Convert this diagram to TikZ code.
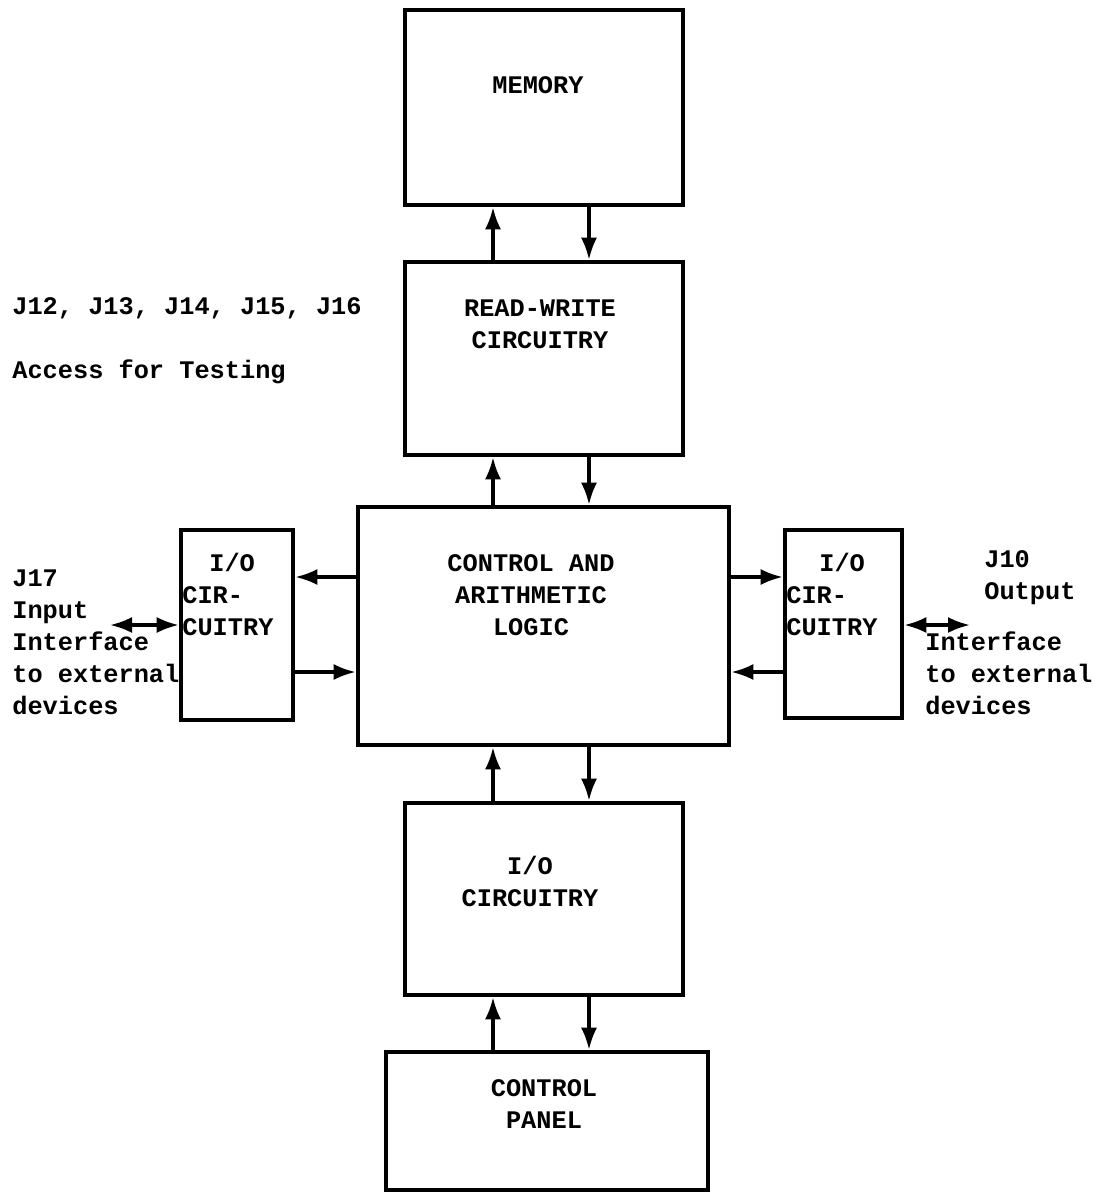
\documentclass[tikz,border=0pt]{standalone}
\usepackage{fontspec}
\newfontfamily\typer{Liberation Mono}
\newcommand{\tw}[1]{{\typer\bfseries #1}}
\usepackage{tikz}
\usetikzlibrary{arrows.meta}
\usetikzlibrary{positioning}

\begin{document}
\begin{tikzpicture}[
    box/.style={draw,line width=2.6pt,inner sep=0pt},
    txt/.style={font=\typer\bfseries\fontsize{14.4}{18.2}\selectfont,align=center,inner sep=0pt},
    lbl/.style={txt,align=left,anchor=west},
    arr/.style={line width=1.8pt,-{Latex[length=4.4mm,width=3.2mm]}},
    darr/.style={line width=1.8pt,{Latex[length=4.4mm,width=3.2mm]}-{Latex[length=4.4mm,width=3.2mm]}}]
  \useasboundingbox (0,0) rectangle (21.96,-23.86);

  % boxes
  \node[box,minimum width=5.56cm,minimum height=3.9cm](mem) at (10.88,-2.15) {};
  \node[box,minimum width=5.56cm,minimum height=3.86cm](rw) at (10.88,-7.17) {};
  \node[box,minimum width=7.42cm,minimum height=4.76cm](ctl) at (10.87,-12.52) {};
  \node[box,minimum width=2.24cm,minimum height=3.8cm](lio) at (4.74,-12.5) {};
  \node[box,minimum width=2.34cm,minimum height=3.76cm](rio) at (16.87,-12.48) {};
  \node[box,minimum width=5.56cm,minimum height=3.84cm](bio) at (10.88,-17.98) {};
  \node[box,minimum width=6.44cm,minimum height=2.76cm](pan) at (10.94,-22.42) {};

  % box texts
  \node[txt](memt) at (10.76,-1.70) {MEMORY};
  \node[txt](rwt) at (10.8,-6.48) {READ-WRITE\\CIRCUITRY};
  \node[txt](ctlt) at (10.62,-11.9) {CONTROL AND\\ARITHMETIC\\LOGIC};
  \node[lbl](liot) at (3.64,-11.88) {\hspace*{0.54cm}I/O\\CIR-\\CUITRY};
  \node[lbl](riot) at (15.72,-11.88) {\hspace*{0.66cm}I/O\\CIR-\\CUITRY};
  \node[txt](biot) at (10.6,-17.62) {I/O\\CIRCUITRY};
  \node[txt](pant) at (10.88,-22.08) {CONTROL\\PANEL};

  % side labels
  \node[lbl](jtest) at (0.24,-6.16) {J12, J13, J14, J15, J16};
  \node[lbl](acc) at (0.24,-7.44) {Access for Testing};
  \node[lbl](jin) at (0.24,-12.84) {J17\\Input\\Interface\\to external\\devices};
  \node[lbl](jout) at (19.68,-11.56) {J10\\Output};
  \node[lbl](jdev) at (18.5,-13.46) {Interface\\to external\\devices};

  % connector lanes
  \coordinate (upx) at (9.86,0);
  \coordinate (dnx) at (11.78,0);
  \coordinate (hiy) at (0,-11.54);
  \coordinate (loy) at (0,-13.44);
  \coordinate (lext) at (2.2,-12.5);
  \coordinate (rext) at (19.4,-12.5);

  \draw[arr] (rw.north -| upx) -- (mem.south -| upx);
  \draw[arr] (mem.south -| dnx) -- (rw.north -| dnx);
  \draw[arr] (ctl.north -| upx) -- (rw.south -| upx);
  \draw[arr] (rw.south -| dnx) -- (ctl.north -| dnx);
  \draw[arr] (bio.north -| upx) -- (ctl.south -| upx);
  \draw[arr] (ctl.south -| dnx) -- (bio.north -| dnx);
  \draw[arr] (pan.north -| upx) -- (bio.south -| upx);
  \draw[arr] (bio.south -| dnx) -- (pan.north -| dnx);

  \draw[arr] (ctl.west |- hiy) -- (lio.east |- hiy);
  \draw[arr] (lio.east |- loy) -- (ctl.west |- loy);
  \draw[arr] (ctl.east |- hiy) -- (rio.west |- hiy);
  \draw[arr] (rio.west |- loy) -- (ctl.east |- loy);

  \draw[darr] (lext) -- (lio.west |- lext);
  \draw[darr] (rio.east |- rext) -- (rext);
\end{tikzpicture}
\end{document}
